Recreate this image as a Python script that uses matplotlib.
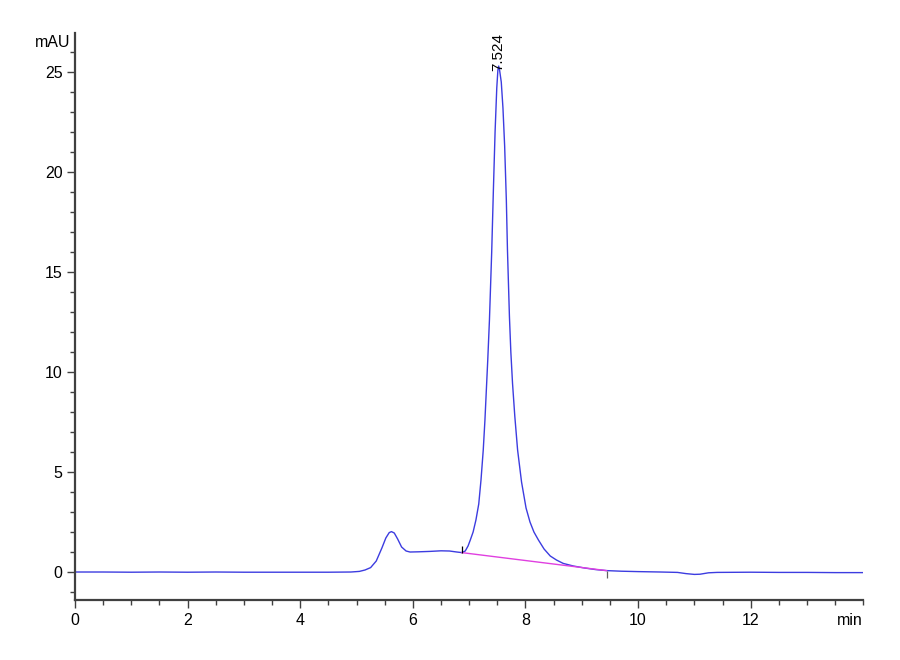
import numpy as np
import matplotlib
matplotlib.use('Agg')
from matplotlib import pyplot as plt
from matplotlib.ticker import MultipleLocator

plt.rcParams['font.family'] = ['Liberation Sans Narrow', 'Liberation Sans', 'DejaVu Sans']

# chromatogram (min, mAU)
time = [0.0, 0.5, 1.0, 1.5, 2.0, 2.5, 3.0, 3.5, 4.0, 4.5, 4.9,
        5.05, 5.15, 5.25, 5.35, 5.45, 5.52, 5.58, 5.62, 5.67, 5.73, 5.80, 5.88, 5.95,
        6.1, 6.3, 6.5, 6.65, 6.78, 6.87, 6.93, 6.98, 7.02, 7.07, 7.12, 7.17, 7.21,
        7.25, 7.28, 7.31, 7.33, 7.36, 7.40, 7.43, 7.46, 7.49, 7.51, 7.524, 7.54,
        7.57, 7.60, 7.63, 7.66, 7.68, 7.70, 7.715, 7.74, 7.77, 7.81, 7.86, 7.93,
        8.01, 8.08, 8.15, 8.23, 8.33, 8.44, 8.55, 8.67, 8.85, 9.05, 9.25, 9.44, 9.7,
        10.0, 10.4, 10.7, 10.85, 11.0, 11.1, 11.25, 11.4, 12.0, 12.5, 13.0, 13.5, 14.0]
signal = [0.0, 0.0, -0.01, 0.0, -0.01, 0.0, -0.01, -0.01, -0.01, -0.01, 0.0,
          0.03, 0.1, 0.22, 0.55, 1.2, 1.7, 1.97, 2.02, 1.95, 1.65, 1.25, 1.05, 1.0,
          1.01, 1.03, 1.06, 1.05, 1.0, 0.97, 1.05, 1.3, 1.6, 2.0, 2.6, 3.4, 4.6,
          6.1, 7.6, 9.4, 10.6, 12.6, 16.0, 19.1, 22.0, 24.2, 25.1, 25.3, 25.1,
          24.5, 23.2, 21.3, 18.6, 16.1, 14.2, 12.77, 11.0, 9.43, 7.8, 6.1, 4.5,
          3.2, 2.5, 2.0, 1.6, 1.15, 0.8, 0.6, 0.43, 0.3, 0.2, 0.12, 0.07, 0.04,
          0.02, 0.0, -0.02, -0.08, -0.12, -0.11, -0.04, -0.02, -0.01, -0.02, -0.02, -0.03, -0.03]

# integration baseline
base_t = [6.87, 9.44]
base_y = [0.97, 0.07]
peak_rt = 7.524
peak_h = 25.3

fig = plt.figure(figsize=(9, 6.6), dpi=100)
ax = fig.add_axes([0.0833, 0.0909, 0.876, 0.859])

ax.plot(time, signal, color='#3c3ce0', lw=1.0)
ax.plot(base_t, base_y, color='#e040e0', lw=1.0)
ax.vlines(base_t[0], base_y[0], base_y[0] + 0.35, color='black', lw=0.9)
ax.vlines(base_t[1], base_y[1] - 0.35, base_y[1], color='#606060', lw=0.9)
ax.text(peak_rt, peak_h - 0.25, '%.3f' % peak_rt, rotation=90, ha='center', va='bottom',
        fontsize=11)

ax.set_xlim(0, 14)
ax.set_ylim(-1.4, 26.95)
ax.xaxis.set_major_locator(MultipleLocator(2))
ax.xaxis.set_minor_locator(MultipleLocator(0.5))
ax.yaxis.set_major_locator(MultipleLocator(5))
ax.yaxis.set_minor_locator(MultipleLocator(1))
ax.set_xticks([0, 2, 4, 6, 8, 10, 12])

for s in ['top', 'right']:
    ax.spines[s].set_visible(False)
for s in ['left', 'bottom']:
    ax.spines[s].set_color('#404040')
    ax.spines[s].set_linewidth(1.6)

ax.tick_params(which='major', length=6, width=1.0, color='#404040', labelsize=11.5, pad=3)
ax.tick_params(which='minor', length=3.5, width=1.0, color='#404040')

fig.text(0.058, 0.935, 'mAU', ha='center', va='center', fontsize=11.5)
fig.text(0.959, 0.06, 'min', ha='right', va='center', fontsize=11.5)

fig.savefig('out.png', dpi=100)
